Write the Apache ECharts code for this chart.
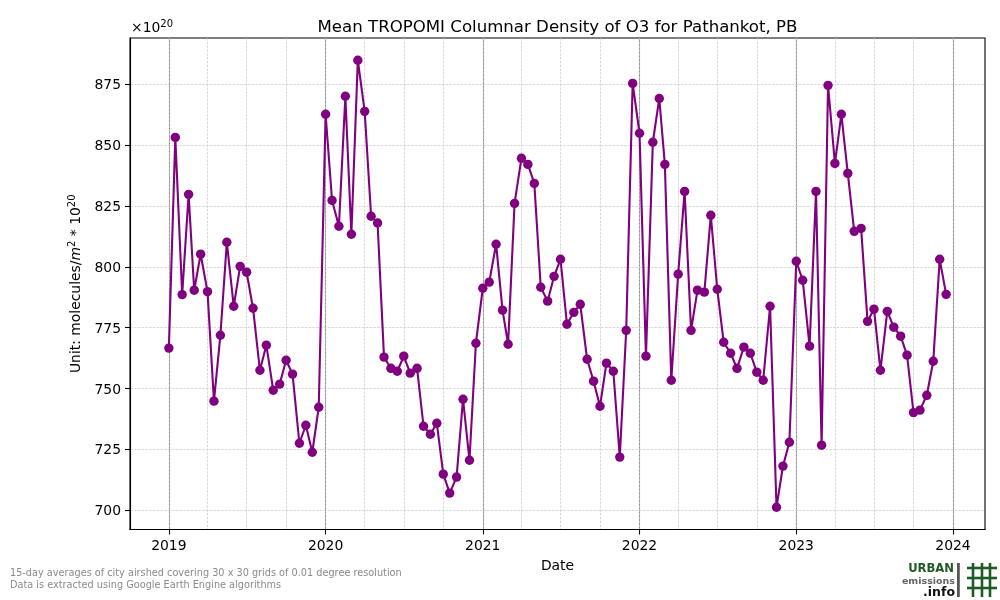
<!DOCTYPE html>
<html><head><meta charset="utf-8">
<style>html,body{margin:0;padding:0;background:#fff}#c{width:1000px;height:600px}</style>
<script src="https://cdn.jsdelivr.net/npm/echarts@6/dist/echarts.min.js"></script>
</head><body><div id="c"></div>
<script>
const years = [2019, 2020, 2021, 2022, 2023];
const yearTicks = [2019, 2020, 2021, 2022, 2023, 2024];
const values2019 = [766.6,853.2,788.6,829.8,790.4,805.2,789.8,744.8,771.9,810.1,783.8,800.2,797.8,783,757.5,767.8,749.3,751.8,761.6,755.9,727.5,734.9,723.8,742.3];
const values2020 = [862.7,827.3,816.7,870.1,813.4,884.9,863.9,820.8,818,762.9,758.3,757.1,763.3,756.3,758.3,734.5,731.2,735.7,714.8,707,713.6,745.6,720.5,768.6];
const values2021 = [791.2,793.7,809.3,782.2,768.2,826.1,844.6,842.1,834.3,791.6,785.9,796.1,803.1,776.4,781.3,784.6,762,753,742.7,760.4,757.1,721.8,773.9,875.4];
const values2022 = [854.9,763.3,851.2,869.2,842.1,753.4,797,831,773.9,790.4,789.6,821.2,790.8,769,764.5,758.3,767,764.5,756.7,753.4,783.8,701.2,718.1,727.9];
const values2023 = [802.3,794.5,767.4,831,726.7,874.6,842.5,862.7,838.4,814.6,815.8,777.6,782.6,757.5,781.7,775.2,771.5,763.7,740.1,741.1,747.2,761.2,803.1,788.7];
const yTicks = [700,725,750,775,800,825,850,875];

const allValues = [values2019,values2020,values2021,values2022,values2023];
const seriesData = [];
years.forEach((y,i)=>{
  allValues[i].forEach((v,j)=>{
    const month = Math.floor(j/2), day = j%2===0 ? 1 : 16;
    seriesData.push([Date.UTC(y,month,day), v]);
  });
});
const DAY = 86400000;
const t0 = Date.UTC(2019,0,1);
const yearMs = yearTicks.map(y=>Date.UTC(y,0,1));
const quarterMs = [];
yearTicks.forEach(y=>{ [0,3,6,9].forEach(m=>{ if(y<2024||m===0) quarterMs.push(Date.UTC(y,m,1)); }); });

const font = 'DejaVu Sans';
const chart = echarts.init(document.getElementById('c'), null, {renderer:'canvas'});
const supStyle = {fontFamily:font,fontSize:10,color:'#000',verticalAlign:'top',lineHeight:18};

const gridH = [];
[973,982,990].forEach(x=>gridH.push({type:'line',shape:{x1:x,y1:563,x2:x,y2:597},style:{stroke:'#1e5a24',lineWidth:2.6}}));
[568,578,588].forEach(y=>gridH.push({type:'line',shape:{x1:967,y1:y,x2:997,y2:y},style:{stroke:'#1e5a24',lineWidth:2.6}}));

chart.setOption({
  animation:false,
  backgroundColor:'#fff',
  textStyle:{fontFamily:font},
  title:{text:'Mean TROPOMI Columnar Density of O3 for Pathankot, PB',left:552.5,textAlign:'center',top:14,
    textStyle:{fontFamily:font,fontSize:16.6,fontWeight:'normal',color:'#000'}},
  grid:{left:130,right:15,top:38,bottom:70.5,show:true,backgroundColor:'#fff',borderColor:'#000',borderWidth:1.1},
  xAxis:[
    {type:'value',min:t0-90.5*DAY,max:t0+1900.5*DAY,position:'bottom',
      name:'Date',nameLocation:'middle',nameGap:30,nameTextStyle:{fontFamily:font,fontSize:13.9,color:'#000'},
      axisLine:{show:true,lineStyle:{color:'#000',width:1.1}},
      axisTick:{show:true,length:5,lineStyle:{color:'#000',width:1.1},customValues:yearMs},
      axisLabel:{show:true,color:'#000',fontFamily:font,fontSize:13.9,margin:10,hideOverlap:false,
        customValues:yearMs,formatter:v=>String(new Date(v).getUTCFullYear())},
      splitLine:{show:true,lineStyle:{color:'#8c8c8c',width:1.1,type:'solid'}},
      minorTick:{show:false},minorSplitLine:{show:false}},
    {type:'value',min:t0-90.5*DAY,max:t0+1900.5*DAY,position:'top',
      axisLine:{show:false},
      axisTick:{show:false,customValues:quarterMs},
      axisLabel:{show:false,customValues:quarterMs},
      splitLine:{show:true,lineStyle:{color:'#c8c8c8',width:0.7,type:[2.6,1.2]}}}
  ],
  yAxis:{type:'value',min:692.05,max:894.05,
    name:'{n|Unit: molecules/}{i|m}{s|2}{n| * 10}{s|20}',nameLocation:'middle',nameGap:43,nameRotate:90,
    nameTextStyle:{fontFamily:font,fontSize:13.9,color:'#000',
      rich:{n:{fontFamily:font,fontSize:13.9,color:'#000',lineHeight:18},
            i:{fontFamily:font,fontSize:13.9,fontStyle:'italic',color:'#000',lineHeight:18},
            s:supStyle}},
    axisLine:{show:true,lineStyle:{color:'#000',width:1.1}},
    axisTick:{show:true,length:5,lineStyle:{color:'#000',width:1.1},customValues:yTicks},
    axisLabel:{show:true,color:'#000',fontFamily:font,fontSize:13.9,margin:9,customValues:yTicks,formatter:v=>'{a|'+v+'}',
      rich:{a:{fontFamily:font,fontSize:13.9,color:'#000',padding:[3,0,0,0]}}},
    splitLine:{show:true,lineStyle:{color:'#c8c8c8',width:0.7,type:[2.6,1.2]}}},
  series:[{type:'line',xAxisIndex:0,data:seriesData,z:5,smooth:false,
    lineStyle:{color:'#800080',width:2.1},
    itemStyle:{color:'#800080'},symbol:'circle',symbolSize:9.4,showSymbol:true,showAllSymbol:true}],
  graphic:[
    {type:'text',left:131,top:19,style:{rich:{n:{fontFamily:font,fontSize:13.9,fill:'#000',lineHeight:18},s:supStyle},
      text:'{n|×10}{s|20}',fontFamily:font,fontSize:13.9,fill:'#000'}},
    {type:'text',left:10,top:567,style:{text:'15-day averages of city airshed covering 30 x 30 grids of 0.01 degree resolution\nData is extracted using Google Earth Engine algorithms',
      fontFamily:font,fontSize:9.72,lineHeight:12,fill:'#8a8a8a'}},
    {type:'text',x:954,y:562.5,style:{text:'URBAN',textAlign:'right',fontFamily:font,fontWeight:'bold',fontSize:11.6,fill:'#1e5a24'}},
    {type:'text',x:955,y:576.5,style:{text:'emissions',textAlign:'right',fontFamily:font,fontWeight:'bold',fontSize:9.5,fill:'#666'}},
    {type:'text',x:955,y:586,style:{text:'.info',textAlign:'right',fontFamily:font,fontWeight:'bold',fontSize:12.5,fill:'#111'}},
    {type:'rect',shape:{x:957,y:563,width:2.8,height:34},style:{fill:'#555'}},
    ...gridH
  ]
});
</script></body></html>
